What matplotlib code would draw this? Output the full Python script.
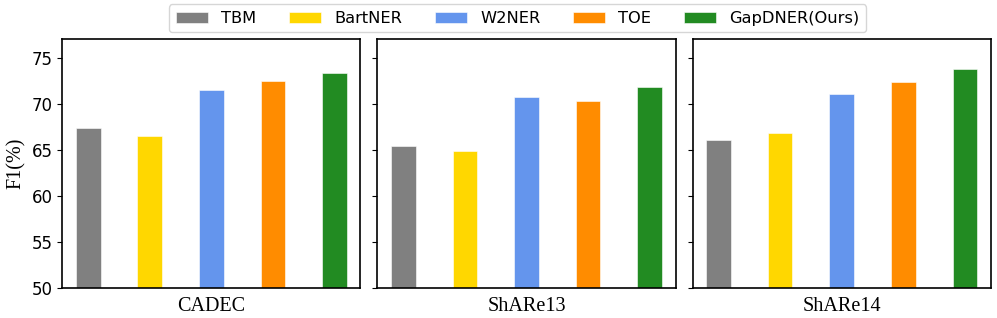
import numpy as np
import matplotlib
matplotlib.use('Agg')
import matplotlib.pyplot as plt

# Données
datasets = ['CADEC', 'ShARe13', 'ShARe14']
models = ['TBM', 'BartNER', 'W2NER', 'TOE', 'GapDNER(Ours)']
colors = ['gray', 'gold', 'cornflowerblue', 'darkorange', 'forestgreen']

cadec = [67.4, 66.5, 71.5, 72.5, 73.3]
share13 = [65.4, 64.9, 70.7, 70.3, 71.8]
share14 = [66.1, 66.8, 71.1, 72.3, 73.8]
scores = [cadec, share13, share14]

serif = ['Times New Roman', 'Liberation Serif', 'DejaVu Serif']

fig, axes = plt.subplots(1, 3, figsize=(9.97, 3.18), dpi=100, sharey=True)
fig.subplots_adjust(left=0.0625, right=0.9937, bottom=0.0934, top=0.877, wspace=0.057)

x = np.arange(len(models))
for ax, name, vals in zip(axes, datasets, scores):
    for i in range(len(models)):
        ax.bar(x[i], vals[i], width=0.4, color=colors[i], label=models[i],
               edgecolor='white', linewidth=0.4)
    ax.set_xticks([])
    ax.set_xlabel(name, family=serif, fontsize=14.5, labelpad=6)
    ax.set_ylim(50, 77)
    ax.set_yticks([50, 55, 60, 65, 70, 75])
    ax.tick_params(axis='y', labelsize=12)
    for s in ax.spines.values():
        s.set_linewidth(1.2)

axes[0].set_ylabel('F1(%)', family=serif, fontsize=14.5)

handles, labels = axes[0].get_legend_handles_labels()
fig.legend(handles, labels, loc='center', bbox_to_anchor=(0.519, 0.942),
           ncol=5, fontsize=11.7)

plt.savefig('out.png', dpi=100)
